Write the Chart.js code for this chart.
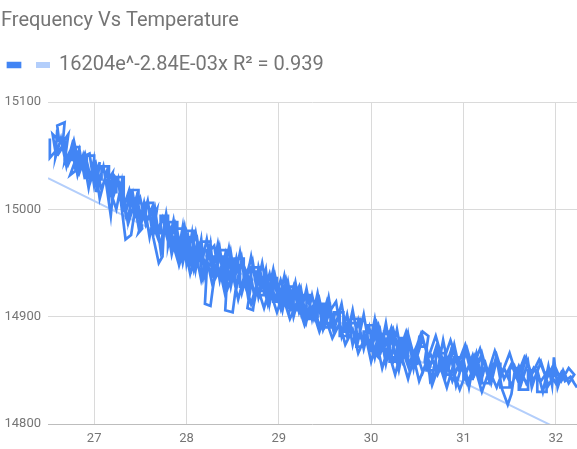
<!DOCTYPE html>
<html>
<head>
<meta charset="utf-8">
<script src="https://cdn.jsdelivr.net/npm/chart.js@4.4.1/dist/chart.umd.min.js"></script>
<style>
  html, body { margin: 0; padding: 0; background: #fff; }
  #wrap { width: 577px; height: 449px; }
</style>
</head>
<body>
<div id="wrap"><canvas id="freqTemp"></canvas></div>
<script>
// Temperatura (eje X) y frecuencia (eje Y), en el orden en que se registraron
const temperature = [
  26.52, 26.52, 26.58, 26.55, 26.62, 26.6, 26.68, 26.66, 26.72, 26.68,
  26.76, 26.8, 26.74, 26.84, 26.9, 26.86, 26.95, 27.0, 27.06, 27.02,
  27.1, 27.16, 27.2, 27.14, 27.24, 27.3, 27.34, 27.4, 27.38, 27.46,
  27.52, 27.48, 27.58, 27.64, 27.68, 27.62, 27.72, 27.78, 27.84, 27.8,
  27.9, 27.96, 28.0, 28.06, 28.1, 28.16, 28.2, 28.26, 28.3, 28.36,
  28.42, 28.48, 28.54, 28.6, 28.66, 28.72, 28.78, 28.86, 28.9, 28.96,
  29.04, 29.1, 29.16, 29.24, 29.3, 29.36, 29.44, 29.52, 29.6,
  // vuelta
  29.56, 29.5, 29.44, 29.38, 29.3, 29.22, 29.16, 29.1, 29.02, 28.96,
  28.9, 28.84, 28.78, 28.72, 28.66, 28.7, 28.6, 28.54, 28.5, 28.42,
  28.44, 28.36, 28.3, 28.26, 28.2, 28.22, 28.14, 28.08, 28.02, 27.96,
  27.9, 27.84, 27.78, 27.72, 27.66, 27.6, 27.54, 27.48, 27.42, 27.36,
  27.3, 27.22, 27.18, 27.12, 27.06, 27.0, 26.94, 26.88, 26.82, 26.76,
  26.7, 26.64, 26.58, 26.6,
  // escalones ida
  26.6, 26.68, 26.68, 26.76, 26.76, 26.84, 26.84, 26.92, 26.92, 27.0,
  27.0, 27.08, 27.08, 27.16, 27.16, 27.24, 27.24, 27.32, 27.32, 27.4,
  27.4, 27.48, 27.48, 27.56, 27.56, 27.64, 27.64, 27.72, 27.72, 27.8,
  27.8, 27.88, 27.88, 27.96, 27.96, 28.04,
  // vuelta
  27.98, 27.92, 27.86, 27.8, 27.74, 27.68, 27.62, 27.56, 27.5, 27.44,
  27.38, 27.32, 27.26, 27.2, 27.14, 27.08, 27.02, 26.96, 26.9, 26.84,
  26.78, 26.72, 26.66, 26.6,
  // ida
  26.66, 26.72, 26.78, 26.84, 26.9, 26.96, 27.02, 27.08, 27.14, 27.2,
  27.26, 27.34, 27.4, 27.46, 27.52, 27.58, 27.64, 27.7, 27.74, 27.76,
  27.82, 27.88, 27.94, 28.0, 28.06, 28.12, 28.18, 28.24, 28.3, 28.36,
  28.42, 28.48, 28.54, 28.6, 28.68, 28.74, 28.8, 28.88, 28.94, 29.02,
  29.08, 29.14, 29.22, 29.28, 29.34, 29.42, 29.48, 29.56, 29.62, 29.68,
  29.74, 29.8, 29.86, 29.92, 29.98, 30.04, 30.1, 30.16, 30.22, 30.3,
  30.36, 30.42, 30.5, 30.56, 30.62, 30.58, 30.66, 30.72, 30.8, 30.86,
  30.92, 31.0, 31.06, 31.12, 31.2,
  // vuelta
  31.14, 31.08, 31.02, 30.96, 30.9, 30.84, 30.78, 30.72, 30.64, 30.6,
  30.52, 30.46, 30.4, 30.34, 30.28, 30.22, 30.16, 30.1, 30.04, 29.98,
  29.92, 29.86, 29.8, 29.74, 29.68, 29.6, 29.54, 29.48, 29.42, 29.36,
  29.3, 29.24, 29.18, 29.12, 29.06, 29.0, 28.94, 28.88, 28.82, 28.76,
  28.7, 28.64, 28.58, 28.52, 28.46, 28.4, 28.34, 28.28, 28.22, 28.16,
  28.1, 28.04, 27.98, 27.92, 27.86, 27.8,
  // escalones ida
  27.8, 27.88, 27.88, 27.96, 27.96, 28.04, 28.04, 28.14, 28.14, 28.22,
  28.22, 28.3, 28.3, 28.4, 28.4, 28.48, 28.48, 28.58, 28.58, 28.66,
  28.66, 28.76, 28.76, 28.84, 28.84, 28.94, 28.94, 29.02, 29.02, 29.12,
  29.12, 29.2, 29.2, 29.3, 29.3, 29.38, 29.38, 29.48, 29.48, 29.56,
  29.56, 29.66, 29.66, 29.74, 29.74, 29.84, 29.84, 29.92, 29.92, 30.02,
  30.02, 30.1, 30.1, 30.2, 30.2, 30.28, 30.28, 30.4,
  // escalones vuelta
  30.4, 30.32, 30.32, 30.24, 30.24, 30.14, 30.14, 30.06, 30.06, 29.96,
  29.96, 29.88, 29.88, 29.78, 29.78, 29.7, 29.7, 29.6, 29.6, 29.52,
  29.52, 29.42, 29.42, 29.34, 29.34, 29.24, 29.24, 29.16, 29.16, 29.06,
  29.06, 28.98, 28.98, 28.88, 28.88, 28.8, 28.8, 28.7, 28.7, 28.62,
  28.62, 28.52, 28.52, 28.44, 28.44, 28.34, 28.34, 28.26, 28.26, 28.16,
  28.16, 28.08, 28.08, 27.98, 27.98, 27.9, 27.9, 27.8,
  // ida
  27.86, 27.92, 27.98, 28.04, 28.1, 28.16, 28.22, 28.28, 28.36, 28.42,
  28.5, 28.56, 28.62, 28.7, 28.76, 28.84, 28.9, 28.98, 29.04, 29.12,
  29.2, 29.28, 29.36, 29.44, 29.5, 29.58, 29.66, 29.72, 29.8, 29.86,
  29.94, 30.0, 30.06, 30.12, 30.18, 30.26, 30.32, 30.4, 30.46, 30.52,
  30.6, 30.66, 30.74, 30.82, 30.88, 30.96, 31.04, 31.1, 31.18, 31.24,
  31.3, 31.36, 31.42, 31.48, 31.52, 31.56, 31.62, 31.7, 31.74, 31.8,
  31.86, 31.92, 31.96, 31.98, 32.02, 32.08, 32.14, 32.2,
  // vuelta
  32.14, 32.06, 31.98, 31.9, 31.82, 31.74, 31.66, 31.58, 31.5, 31.42,
  31.34, 31.26, 31.18, 31.1, 31.02, 30.94, 30.86, 30.78, 30.7, 30.62,
  30.54, 30.46, 30.38, 30.3, 30.22, 30.14, 30.06, 30.0,
  // escalones ida
  30.0, 30.1, 30.1, 30.2, 30.2, 30.3, 30.3, 30.4, 30.4, 30.5,
  30.5, 30.6, 30.6, 30.7, 30.7, 30.8, 30.8, 30.9, 30.9, 31.0,
  31.0, 31.1, 31.1, 31.2, 31.2, 31.3, 31.3, 31.4, 31.4, 31.5,
  31.5, 31.6, 31.6, 31.7, 31.7, 31.8, 31.8, 31.9, 31.9, 32.0,
  // vuelta
  31.92, 31.84, 31.76, 31.68, 31.6, 31.52, 31.44, 31.36, 31.28, 31.2,
  31.12, 31.04, 30.96, 30.88, 30.8, 30.72, 30.64, 30.56, 30.48, 30.4,
  30.32, 30.24, 30.16, 30.08, 30.0,
  // ida final
  30.08, 30.16, 30.24, 30.32, 30.4, 30.48, 30.56, 30.64, 30.72, 30.8,
  30.88, 30.96, 31.04, 31.12, 31.2, 31.28, 31.36, 31.44, 31.52, 31.6,
  31.68, 31.76, 31.84, 31.92, 32.0, 32.06, 32.1, 32.16, 32.2, 32.23
];
const frequency = [
  15066, 15048, 15054, 15070, 15064, 15078, 15081, 15062, 15070, 15044,
  15058, 15036, 15032, 15056, 15028, 15048, 15052, 15022, 15044, 15016,
  15040, 15008, 15034, 15026, 15000, 15026, 14996, 15018, 14990, 15012,
  14982, 14978, 15008, 14976, 15000, 14990, 14966, 14996, 14962, 14984,
  14954, 14984, 14950, 14978, 14944, 14972, 14940, 14968, 14934, 14964,
  14930, 14960, 14926, 14954, 14922, 14950, 14918, 14944, 14912, 14938,
  14906, 14932, 14900, 14926, 14896, 14920, 14890, 14914, 14884,
  // vuelta
  14908, 14892, 14916, 14898, 14922, 14904, 14928, 14910, 14934, 14916,
  14940, 14924, 14946, 14906, 14908, 14930, 14952, 14930, 14904, 14906,
  14936, 14956, 14936, 14910, 14912, 14944, 14966, 14944, 14974, 14950,
  14980, 14958, 14990, 14962, 15000, 14974, 15006, 14984, 15014, 14990,
  15022, 15031, 14994, 15030, 15010, 15047, 15020, 15050, 15032, 15060,
  15040, 15066, 15048, 15074,
  // escalones ida
  15064, 15064, 15046, 15046, 15058, 15058, 15038, 15038, 15050, 15050,
  15028, 15028, 15040, 15040, 15016, 15016, 15030, 15030, 15004, 15004,
  15018, 15018, 14992, 14992, 15006, 15006, 14978, 14978, 14994, 14994,
  14966, 14966, 14982, 14982, 14954, 14954,
  // vuelta
  14974, 14962, 14984, 14970, 14992, 14978, 15000, 14986, 15010, 14994,
  15018, 15002, 15026, 15010, 15034, 15018, 15042, 15026, 15048, 15034,
  15054, 15042, 15060, 15050,
  // ida
  15058, 15046, 15064, 15040, 15052, 15030, 15040, 15018, 15036, 15010,
  15028, 14972, 14976, 15010, 14990, 15006, 14974, 14950, 14956, 14988,
  14970, 14986, 14956, 14978, 14946, 14970, 14936, 14960, 14966, 14934,
  14958, 14928, 14954, 14922, 14948, 14916, 14942, 14912, 14936, 14908,
  14934, 14912, 14928, 14896, 14904, 14918, 14888, 14906, 14914, 14882,
  14902, 14874, 14896, 14870, 14890, 14862, 14886, 14856, 14880, 14850,
  14876, 14848, 14870, 14886, 14882, 14858, 14844, 14868, 14842, 14866,
  14836, 14860, 14834, 14862, 14840,
  // vuelta
  14866, 14848, 14870, 14850, 14874, 14852, 14878, 14850, 14840, 14872,
  14880, 14852, 14884, 14860, 14888, 14862, 14894, 14868, 14898, 14872,
  14902, 14878, 14906, 14882, 14912, 14888, 14918, 14894, 14922, 14898,
  14926, 14904, 14932, 14908, 14938, 14914, 14944, 14920, 14950, 14926,
  14956, 14930, 14960, 14934, 14964, 14938, 14968, 14942, 14972, 14948,
  14978, 14952, 14984, 14958, 14990, 14966,
  // escalones ida
  14978, 14978, 14962, 14962, 14974, 14974, 14952, 14952, 14962, 14962,
  14944, 14944, 14956, 14956, 14936, 14936, 14948, 14948, 14928, 14928,
  14942, 14942, 14920, 14920, 14934, 14934, 14914, 14914, 14926, 14926,
  14906, 14906, 14918, 14918, 14898, 14898, 14910, 14910, 14890, 14890,
  14902, 14902, 14882, 14882, 14894, 14894, 14872, 14872, 14886, 14886,
  14866, 14866, 14878, 14878, 14858, 14858, 14872, 14872,
  // escalones vuelta
  14880, 14880, 14868, 14868, 14886, 14886, 14874, 14874, 14892, 14892,
  14880, 14880, 14898, 14898, 14886, 14886, 14904, 14904, 14894, 14894,
  14912, 14912, 14900, 14900, 14920, 14920, 14908, 14908, 14928, 14928,
  14916, 14916, 14936, 14936, 14924, 14924, 14946, 14946, 14932, 14932,
  14954, 14954, 14940, 14940, 14962, 14962, 14948, 14948, 14970, 14970,
  14956, 14956, 14980, 14980, 14966, 14966, 14988, 14988,
  // ida
  14972, 14948, 14966, 14940, 14960, 14934, 14954, 14930, 14944, 14920,
  14940, 14916, 14936, 14912, 14930, 14908, 14926, 14904, 14920, 14898,
  14914, 14892, 14908, 14886, 14900, 14880, 14894, 14874, 14888, 14866,
  14882, 14858, 14876, 14852, 14870, 14846, 14866, 14842, 14862, 14840,
  14858, 14836, 14856, 14834, 14852, 14832, 14850, 14864, 14836, 14856,
  14838, 14860, 14832, 14818, 14828, 14852, 14836, 14858, 14834, 14850,
  14830, 14854, 14836, 14862, 14834, 14850, 14838, 14846,
  // vuelta
  14852, 14840, 14856, 14842, 14860, 14846, 14862, 14844, 14866, 14848,
  14868, 14846, 14870, 14852, 14874, 14856, 14878, 14858, 14882, 14862,
  14884, 14864, 14886, 14866, 14890, 14870, 14894, 14876,
  // escalones ida
  14868, 14868, 14884, 14884, 14862, 14862, 14878, 14878, 14856, 14856,
  14872, 14872, 14850, 14850, 14866, 14866, 14846, 14846, 14862, 14862,
  14842, 14842, 14860, 14860, 14838, 14838, 14856, 14856, 14834, 14834,
  14852, 14852, 14832, 14832, 14850, 14850, 14830, 14830, 14848, 14848,
  // vuelta
  14836, 14858, 14840, 14862, 14838, 14856, 14842, 14864, 14840, 14866,
  14846, 14870, 14848, 14872, 14852, 14876, 14854, 14880, 14858, 14884,
  14862, 14888, 14866, 14892, 14870,
  // ida final
  14862, 14878, 14858, 14874, 14854, 14870, 14848, 14866, 14846, 14862,
  14840, 14858, 14838, 14854, 14830, 14850, 14834, 14852, 14836, 14854,
  14838, 14852, 14840, 14850, 14838, 14848, 14840, 14844, 14838, 14834
];

// Linea de tendencia
const trendTemp = [26.5, 29.35, 32.23];
const trendFreq = [15029, 14908, 14787];
const trendLabel = '16204e^-2.84E-03x R\u00b2 = 0.939';

const xTicks = [27, 28, 29, 30, 31, 32];
const yTicks = [14800, 14900, 15000, 15100];

const gris = '#757575';

// deja mas aire entre la leyenda y el area del grafico
const legendGap = {
  id: 'legendGap',
  beforeInit(chart) {
    const fit = chart.legend.fit;
    chart.legend.fit = function () {
      fit.bind(chart.legend)();
      this.height += 17;
    };
  }
};

new Chart(document.getElementById('freqTemp'), {
  type: 'scatter',
  data: {
    datasets: [{
      label: '',
      data: temperature.map((t, i) => ({ x: t, y: frequency[i] })),
      showLine: true,
      borderColor: '#4285f4',
      backgroundColor: '#4285f4',
      borderWidth: 2.7,
      pointRadius: 0,
      tension: 0
    }, {
      label: trendLabel,
      data: trendTemp.map((t, i) => ({ x: t, y: trendFreq[i] })),
      showLine: true,
      borderColor: '#b3cefb',
      backgroundColor: '#b3cefb',
      borderWidth: 2,
      pointRadius: 0
    }]
  },
  options: {
    responsive: true,
    maintainAspectRatio: false,
    animation: false,
    layout: { padding: { left: 1, right: 0, top: 6, bottom: 0 } },
    plugins: {
      title: {
        display: true,
        text: 'Frequency Vs Temperature',
        align: 'start',
        color: gris,
        font: { family: 'Roboto', size: 20, weight: 'normal' },
        padding: { top: 3, bottom: 15 }
      },
      legend: {
        align: 'start',
        labels: {
          boxWidth: 12,
          boxHeight: 4,
          padding: 7,
          color: gris,
          font: { family: 'Roboto', size: 20 }
        }
      },
      tooltip: { enabled: false }
    },
    scales: {
      x: {
        type: 'linear',
        min: 26.5,
        max: 32.23,
        afterBuildTicks: axis => { axis.ticks = xTicks.map(v => ({ value: v })); },
        afterFit: axis => { axis.height = 25; },
        ticks: { color: gris, font: { family: 'Roboto', size: 13 }, padding: 7 },
        grid: { color: '#dadada', drawTicks: false },
        border: { display: false }
      },
      y: {
        min: 14800,
        max: 15100,
        afterBuildTicks: axis => { axis.ticks = yTicks.map(v => ({ value: v })); },
        afterFit: axis => { axis.width = 47; },
        ticks: {
          color: gris,
          font: { family: 'Roboto', size: 13 },
          padding: 7,
          callback: v => String(v)
        },
        grid: {
          color: ctx => ctx.tick && ctx.tick.value === 14800 ? '#bdbdbd' : '#dadada',
          drawTicks: false
        },
        border: { display: false }
      }
    }
  },
  plugins: [legendGap]
});
</script>
</body>
</html>
